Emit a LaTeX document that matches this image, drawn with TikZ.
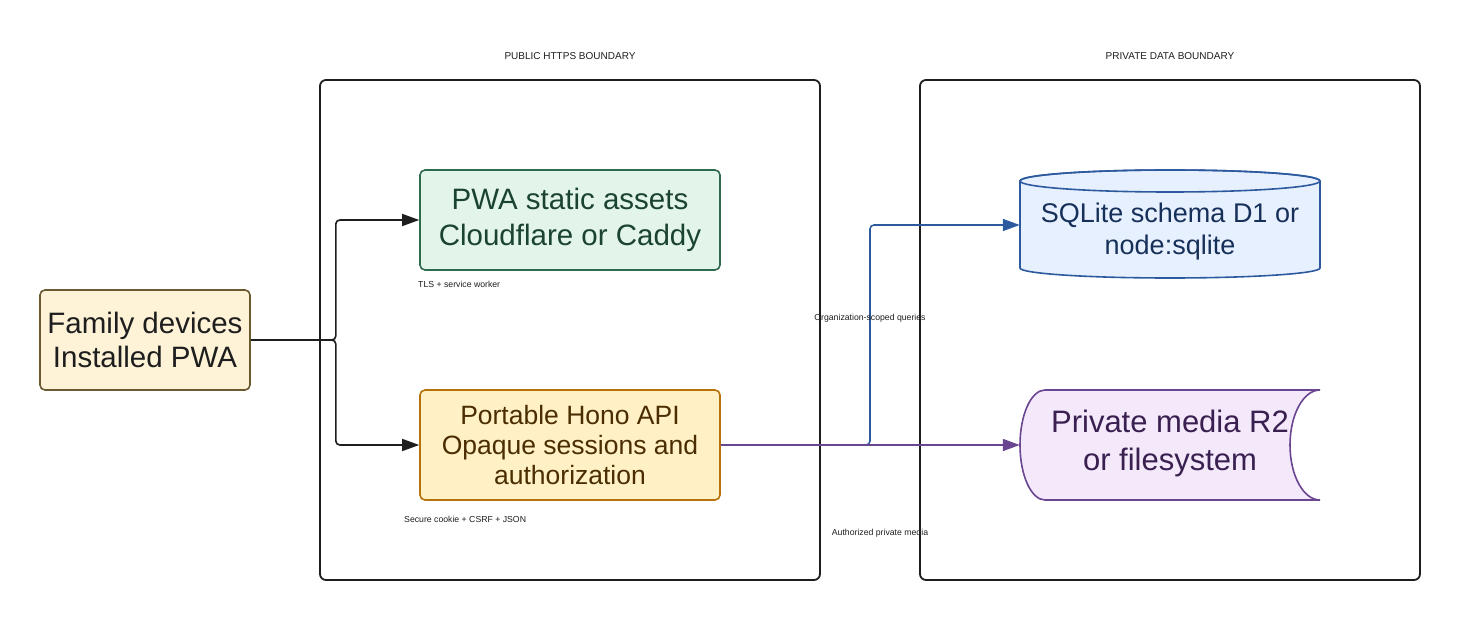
\documentclass[tikz,border=0pt]{standalone}
\usepackage{fontspec}
\setmainfont{Liberation Sans}
\usetikzlibrary{arrows.meta}
\definecolor{famfill}{HTML}{FEF3D7}
\definecolor{famline}{HTML}{6B5A30}
\definecolor{pwafill}{HTML}{E3F4EA}
\definecolor{pwaline}{HTML}{2E6A4E}
\definecolor{pwatext}{HTML}{1B4332}
\definecolor{apifill}{HTML}{FFF0C6}
\definecolor{apiline}{HTML}{B8720A}
\definecolor{apitext}{HTML}{4A2D00}
\definecolor{sqlfill}{HTML}{E7F0FE}
\definecolor{sqlline}{HTML}{2D5A9E}
\definecolor{sqltext}{HTML}{16305A}
\definecolor{medfill}{HTML}{F4E8FB}
\definecolor{medline}{HTML}{6A4590}
\definecolor{medtext}{HTML}{3A2050}
\definecolor{ink}{HTML}{1E1E1E}

\begin{document}
\begin{tikzpicture}[x=1pt,y=-1pt,
    zone/.style={draw=ink,line width=1.8pt,rounded corners=6pt,minimum width=500pt,minimum height=500pt},
    title/.style={font=\fontsize{10}{12}\selectfont,text=ink,inner sep=0pt},
    box/.style={draw,line width=1.6pt,rounded corners=5pt,align=center,inner sep=0pt},
    note/.style={font=\fontsize{8.7}{10}\selectfont,text=ink,inner sep=0pt},
    link/.style={line width=1.6pt,rounded corners=4pt,-{Triangle[length=17pt,width=12pt]}}]
  \useasboundingbox (0,0) rectangle (1460,620);
  % boundaries
  \node[zone] (pub) at (570,330) {};
  \node[zone] (priv) at (1170,330) {};
  \node[title] (pubT) at (570,56) {PUBLIC HTTPS BOUNDARY};
  \node[title] (privT) at (1170,56) {PRIVATE DATA BOUNDARY};
  % storage shapes
  \filldraw[fill=sqlfill,draw=sqlline,line width=1.6pt] (1020,181) -- (1020,268) arc[start angle=180,end angle=360,x radius=150pt,y radius=10pt] -- (1320,181) arc[start angle=0,end angle=180,x radius=150pt,y radius=11pt] -- cycle;
  \draw[sqlline,line width=1.6pt] (1170,181) ellipse[x radius=150pt,y radius=11pt];
  \filldraw[fill=medfill,draw=medline,line width=1.6pt] (1045,390) arc[start angle=90,end angle=270,x radius=25pt,y radius=55pt] -- (1320,500) arc[start angle=270,end angle=90,x radius=30pt,y radius=55pt] -- cycle;
  % nodes
  \node[box,draw=famline,fill=famfill,text=ink,minimum width=210pt,minimum height=100pt,font=\fontsize{29.5}{36}\selectfont] (fam) at (145,340) {Family devices\\[-2pt]Installed PWA};
  \node[box,draw=pwaline,fill=pwafill,text=pwatext,minimum width=300pt,minimum height=100pt,font=\fontsize{29.5}{36}\selectfont] (pwa) at (570,220) {PWA static assets\\Cloudflare or Caddy};
  \node[box,draw=apiline,fill=apifill,text=apitext,minimum width=300pt,minimum height=110pt,font=\fontsize{26.5}{30}\selectfont] (api) at (570,445) {Portable Hono API\\Opaque sessions and\\authorization};
  \node[align=center,inner sep=0pt,text=sqltext,minimum width=300pt,minimum height=108pt,font=\fontsize{27}{32}\selectfont] (sql) at (1170,232) {SQLite schema D1 or\\node:sqlite};
  \node[align=center,inner sep=0pt,text=medtext,minimum width=300pt,minimum height=110pt,font=\fontsize{31}{38}\selectfont] (media) at (1170,443) {Private media R2\\or filesystem};
  \coordinate (split) at (870,445);
  % connectors
  \draw[link,ink] (fam.east) -- ++(85,0) |- (pwa.west);
  \draw[link,ink] (fam.east) -- ++(85,0) |- (api.west);
  \draw[link,sqlline] (api.east) -- (split) |- ([yshift=7pt]sql.west);
  \draw[link,medline] (api.east) -- (media.west |- split);
  % labels
  \node[note,anchor=west] (tlsL) at (418,284) {TLS + service worker};
  \node[note,anchor=west] (cookieL) at (404,519) {Secure cookie + CSRF + JSON};
  \node[note] (queryL) at (870,318) {Organization-scoped queries};
  \node[note] (mediaL) at (880,533) {Authorized private media};
\end{tikzpicture}
\end{document}
